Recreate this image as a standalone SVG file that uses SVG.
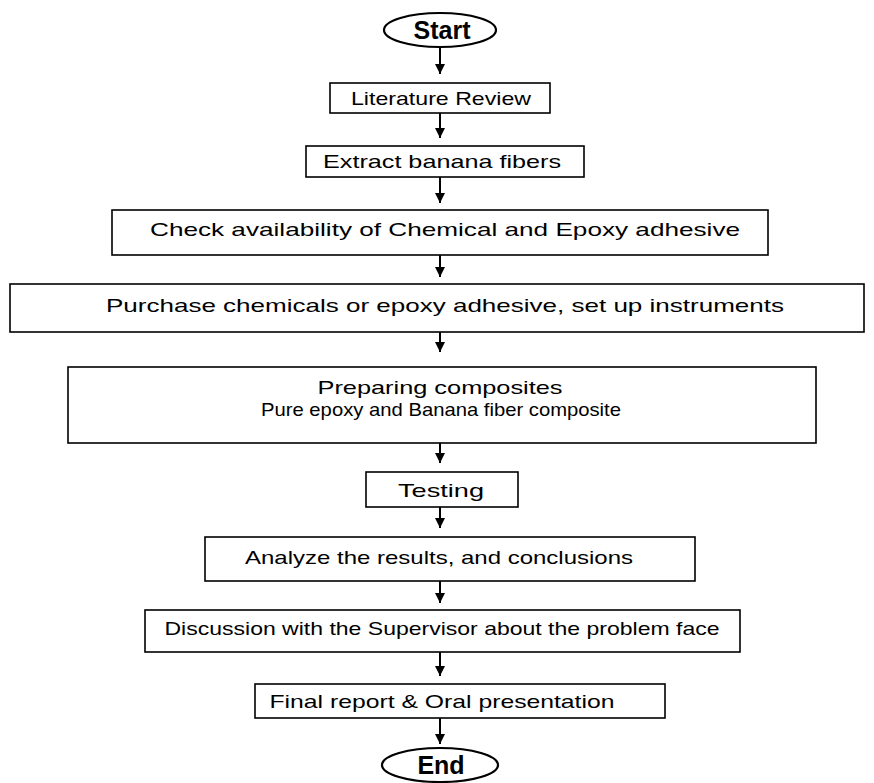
<svg xmlns="http://www.w3.org/2000/svg" width="874" height="783" viewBox="0 0 874 783">
<style>
.box{fill:#fff;stroke:#000;stroke-width:1.6}
.ell{fill:#fff;stroke:#000;stroke-width:2.2}
.t{font-family:"Liberation Sans",Arial,sans-serif;font-size:19px;fill:#000;text-anchor:middle;dominant-baseline:central}
.tb{font-family:"Liberation Sans",Arial,sans-serif;font-size:25px;font-weight:bold;fill:#000;text-anchor:middle;dominant-baseline:central}
.c{stroke:#000;stroke-width:2;fill:none;marker-end:url(#ah)}
</style>
<defs>
<marker id="ah" markerWidth="11" markerHeight="10" refX="10" refY="5" orient="auto" markerUnits="userSpaceOnUse">
<path d="M0,0 L10,5 L0,10 Z" fill="#000"/>
</marker>
</defs>
<rect width="874" height="783" fill="#fff"/>
<g id="connectors">
<line class="c" x1="440" y1="47" x2="440" y2="74"/>
<line class="c" x1="440" y1="113" x2="440" y2="138"/>
<line class="c" x1="440" y1="177" x2="440" y2="203"/>
<line class="c" x1="440" y1="255" x2="440" y2="277"/>
<line class="c" x1="440" y1="332" x2="440" y2="352"/>
<line class="c" x1="440" y1="443" x2="440" y2="463"/>
<line class="c" x1="440" y1="507" x2="440" y2="528"/>
<line class="c" x1="440" y1="581" x2="440" y2="603"/>
<line class="c" x1="440" y1="652" x2="440" y2="676"/>
<line class="c" x1="440" y1="718" x2="440" y2="744"/>
</g>
<g id="start"><ellipse class="ell" cx="440" cy="30" rx="56" ry="17"/><text class="tb" x="442" y="30">Start</text></g>
<g id="literature"><rect class="box" x="330" y="83" width="220" height="30"/><text class="t" x="441" y="98" textLength="180" lengthAdjust="spacingAndGlyphs">Literature Review</text></g>
<g id="extract"><rect class="box" x="306" y="146" width="278" height="31"/><text class="t" x="442" y="161" textLength="238" lengthAdjust="spacingAndGlyphs">Extract banana fibers</text></g>
<g id="check"><rect class="box" x="112" y="210" width="656" height="45"/><text class="t" x="445" y="229" textLength="590" lengthAdjust="spacingAndGlyphs">Check availability of Chemical and Epoxy adhesive</text></g>
<g id="purchase"><rect class="box" x="10" y="284" width="854" height="48"/><text class="t" x="445" y="305" textLength="678" lengthAdjust="spacingAndGlyphs">Purchase chemicals or epoxy adhesive, set up instruments</text></g>
<g id="preparing"><rect class="box" x="68" y="367" width="748" height="76"/><text class="t" x="440" y="387" textLength="245" lengthAdjust="spacingAndGlyphs">Preparing composites</text><text class="t" x="441" y="409" textLength="360" lengthAdjust="spacingAndGlyphs">Pure epoxy and Banana fiber composite</text></g>
<g id="testing"><rect class="box" x="366" y="472" width="152" height="35"/><text class="t" x="441" y="490" textLength="86" lengthAdjust="spacingAndGlyphs">Testing</text></g>
<g id="analyze"><rect class="box" x="205" y="537" width="490" height="44"/><text class="t" x="439" y="557" textLength="388" lengthAdjust="spacingAndGlyphs">Analyze the results, and conclusions</text></g>
<g id="discussion"><rect class="box" x="145" y="610" width="595" height="42"/><text class="t" x="442" y="628" textLength="555" lengthAdjust="spacingAndGlyphs">Discussion with the Supervisor about the problem face</text></g>
<g id="final"><rect class="box" x="255" y="684" width="410" height="34"/><text class="t" x="442" y="701" textLength="345" lengthAdjust="spacingAndGlyphs">Final report &amp; Oral presentation</text></g>
<g id="end"><ellipse class="ell" cx="440" cy="765" rx="58" ry="17"/><text class="tb" x="441" y="765">End</text></g>
</svg>
